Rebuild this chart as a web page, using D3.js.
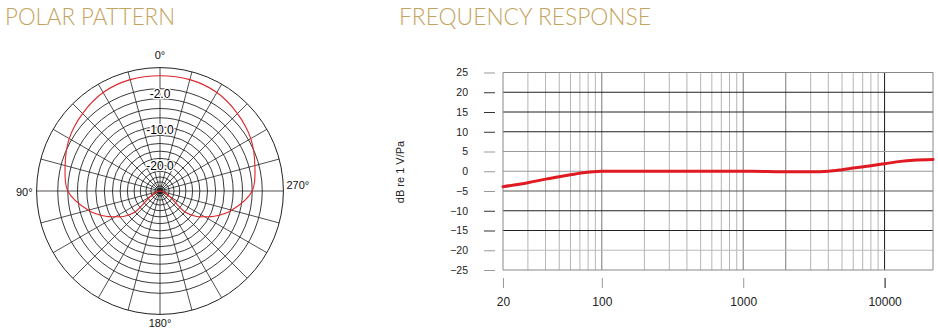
<!DOCTYPE html>
<html><head><meta charset="utf-8">
<script src="https://cdn.jsdelivr.net/npm/d3@7"></script>
<style>
html,body{margin:0;padding:0;background:#fff;}
svg{display:block;}
</style></head>
<body>
<svg id="chart" width="938" height="333"></svg>
<script>
// ---------- DATA ----------
const titles = ["POLAR PATTERN", "FREQUENCY RESPONSE"];
// polar grid
const ringValues = [0,-2,-4,-6,-8,-10,-12,-14,-16,-18,-20,-22,-24,-26];
const outerRingValue = 4;
const ringLabels = [-2, -10, -20];
const spokeAngles = d3.range(0, 360, 15);
const angleLabels = ["0°", "90°", "180°", "270°"];
const angleLabelAngles = [0, 90, 180, 270];
// polar pattern (deg, dB), 90° on the left
const polarAngles = [0, 15, 30, 45, 60, 75, 90, 105, 115, 120, 125, 130, 180, 230, 235, 240, 245, 255, 270, 285, 300, 315, 330, 345];
const polarDb     = [2.5, 2.5, 2.2, 1.4, 0.5, -0.8, -2.0, -5.8, -9.0, -11.0, -12.8, -16.0, -30, -16.0, -12.8, -11.0, -9.0, -5.8, -2.0, -0.8, 0.5, 1.4, 2.2, 2.5];
// frequency response
const freqs  = [20, 30, 40, 50, 70, 100, 200, 500, 1000, 1500, 2000, 3000, 4000, 5000, 6000, 8000, 10000, 13000, 16000, 22000];
const respDb = [-3.9, -2.9, -2.0, -1.4, -0.5, 0, 0, 0, 0, -0.05, -0.15, -0.15, 0, 0.4, 0.8, 1.4, 1.9, 2.5, 2.8, 3.0];
const yTicks = [25, 20, 15, 10, 5, 0, -5, -10, -15, -20, -25];
const xTickLabels = [20, 100, 1000, 10000];
const yAxisTitle = "dB re 1 V/Pa";

// ---------- SETUP ----------
const svg = d3.select("#chart");
const gold = "#c4a35e";
const titleFont = "Lato, 'Open Sans', sans-serif";
const font = "'Liberation Sans', Arial, sans-serif";

svg.append("text").attr("x", 5).attr("y", 25).text(titles[0])
  .attr("font-family", titleFont).attr("font-weight", 300).attr("font-size", 23)
  .attr("fill", gold).attr("textLength", 170).attr("lengthAdjust", "spacingAndGlyphs");
svg.append("text").attr("x", 399).attr("y", 25).text(titles[1])
  .attr("font-family", titleFont).attr("font-weight", 300).attr("font-size", 23)
  .attr("fill", gold).attr("textLength", 252).attr("lengthAdjust", "spacingAndGlyphs");

// ---------- POLAR ----------
const cx = 160, cy = 191;
const rBase = d3.scalePow().exponent(1.5).domain([0, 34]).range([0, 123.4]);
const r = db => rBase(Math.max(0, db + 30));
const rOuter = r(outerRingValue);
const pg = svg.append("g").attr("transform", `translate(${cx},${cy})`);

pg.selectAll("line.spoke").data(spokeAngles).join("line")
  .attr("x1", 0).attr("y1", 0)
  .attr("x2", a => -rOuter * Math.sin(a * Math.PI / 180))
  .attr("y2", a => -rOuter * Math.cos(a * Math.PI / 180))
  .attr("stroke", "#222").attr("stroke-width", 0.8);

pg.selectAll("circle.ring").data(ringValues).join("circle")
  .attr("r", d => r(d)).attr("fill", "none").attr("stroke", "#222").attr("stroke-width", 0.9);
pg.append("circle").attr("r", rOuter).attr("fill", "none").attr("stroke", "#222").attr("stroke-width", 1);
pg.append("circle").attr("r", 3).attr("fill", "#222");

const polarPts = polarAngles.map((a, i) => [-a * Math.PI / 180, r(polarDb[i])]);
pg.append("path").datum(polarPts)
  .attr("d", d3.lineRadial().angle(d => d[0]).radius(d => d[1]).curve(d3.curveCatmullRomClosed.alpha(0.5)))
  .attr("fill", "none").attr("stroke", "#e0252a").attr("stroke-width", 1.1);

pg.selectAll("text.rl").data(ringLabels).join("text")
  .attr("x", 0).attr("y", d => -r(d) - 1)
  .attr("text-anchor", "middle").attr("font-family", font).attr("font-size", 12)
  .attr("fill", "#000").attr("stroke", "#fff").attr("stroke-width", 2.5).attr("paint-order", "stroke")
  .text(d => d.toFixed(1));

const angPos = [[0, -rOuter - 9, "middle"], [-rOuter - 4, 5, "end"], [0, rOuter + 13, "middle"], [rOuter + 3, -2, "start"]];
pg.selectAll("text.al").data(angleLabels).join("text")
  .attr("x", (d, i) => angPos[i][0]).attr("y", (d, i) => angPos[i][1])
  .attr("text-anchor", (d, i) => angPos[i][2])
  .attr("font-family", font).attr("font-size", 11).attr("fill", "#111")
  .text(d => d);

// ---------- FREQUENCY RESPONSE ----------
const x = d3.scaleLog().domain([20, 22000]).range([503, 933]);
const y = d3.scaleLinear().domain([-25, 25]).range([270, 72.5]);
const fg = svg.append("g");

// vertical grid
const minor = [];
[10, 100, 1000].forEach(dec => { for (let k = 1; k <= 9; k++) { const f = dec * k; if (f > 20 && f < 20000 && f !== 100 && f !== 1000) minor.push(f); } });
minor.push(10000);
const vShade = f => f === 10000 ? "#1a1a1a" : (f === 100 || f === 1000 || f === 2000) ? "#777" : "#b5b5b5";
fg.selectAll("line.vg").data(minor.concat([100, 1000])).join("line")
  .attr("x1", d => x(d)).attr("x2", d => x(d)).attr("y1", y(25)).attr("y2", y(-25))
  .attr("stroke", d => vShade(d)).attr("stroke-width", 1);

// horizontal grid
const hShade = v => (v === 25 || v === -25) ? "#888" : ([20, 15, 10, -10, -15].includes(v) ? "#222" : (v === -20 ? "#bbb" : (v === -5 ? "#555" : "#999")));
fg.selectAll("line.hg").data(yTicks).join("line")
  .attr("x1", x(20)).attr("x2", x(22000)).attr("y1", d => y(d)).attr("y2", d => y(d))
  .attr("stroke", d => hShade(d)).attr("stroke-width", 1);
// frame sides
fg.append("line").attr("x1", x(20)).attr("x2", x(20)).attr("y1", y(25)).attr("y2", y(-25)).attr("stroke", "#888");
fg.append("line").attr("x1", x(22000)).attr("x2", x(22000)).attr("y1", y(25)).attr("y2", y(-25)).attr("stroke", "#888");

// y axis ticks
const yAxis = d3.axisLeft(y).tickValues(yTicks).tickSize(11).tickPadding(16).tickFormat(d3.format("d"));
const ya = fg.append("g").attr("transform", `translate(${x(20) - 8},0)`).call(yAxis);
ya.select(".domain").remove();
ya.selectAll(".tick line").attr("stroke", d => ([20, 15, 10, -10, -15].includes(d) ? "#333" : "#999"));
ya.selectAll(".tick text").attr("font-family", font).attr("font-size", 10.5).attr("fill", "#222").attr("x", -27);

// x axis ticks
const xAxis = d3.axisBottom(x).tickValues(xTickLabels).tickSize(10).tickPadding(9).tickFormat(d3.format("d"));
const xa = fg.append("g").attr("transform", `translate(0,${y(-25) + 8})`).call(xAxis);
xa.select(".domain").remove();
xa.selectAll(".tick line").attr("stroke", d => d === 10000 ? "#111" : "#999");
xa.selectAll(".tick text").attr("font-family", font).attr("font-size", 12).attr("fill", "#222");

// y title
fg.append("text").attr("transform", "translate(404,172) rotate(-90)")
  .attr("text-anchor", "middle").attr("font-family", font).attr("font-size", 11).attr("fill", "#222")
  .text(yAxisTitle);

// response curve
fg.append("path").datum(freqs.map((f, i) => [f, respDb[i]]))
  .attr("d", d3.line().x(d => x(d[0])).y(d => y(d[1])).curve(d3.curveMonotoneX))
  .attr("fill", "none").attr("stroke", "#e01a22").attr("stroke-width", 3).attr("stroke-linecap", "round");
</script>
</body></html>
